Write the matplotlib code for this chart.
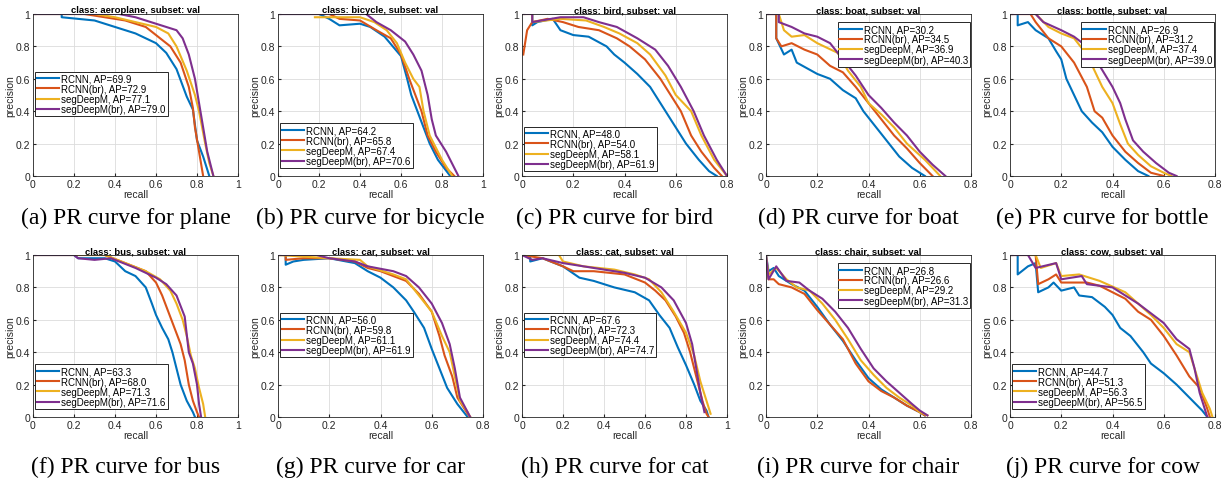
import numpy as np
import matplotlib.pyplot as plt
from matplotlib.ticker import FormatStrFormatter

# curves as (recall, precision) points
methods = ['RCNN', 'RCNN(br)', 'segDeepM', 'segDeepM(br)']
colors = ['#0072BD', '#D95319', '#EDB120', '#7E2F8E']

classes = ['aeroplane', 'bicycle', 'bird', 'boat', 'bottle',
           'bus', 'car', 'cat', 'chair', 'cow']
captions = ['(a) PR curve for plane', '(b) PR curve for bicycle',
            '(c) PR curve for bird', '(d) PR curve for boat',
            '(e) PR curve for bottle', '(f) PR curve for bus',
            '(g) PR curve for car', '(h) PR curve for cat',
            '(i) PR curve for chair', '(j) PR curve for cow']
xmax = [1, 1, 0.8, 0.8, 0.8, 1, 0.8, 1, 0.8, 0.8]

# AP values from the legends
ap_plane = [69.9, 72.9, 77.1, 79.0]
ap_bicycle = [64.2, 65.8, 67.4, 70.6]
ap_bird = [48.0, 54.0, 58.1, 61.9]
ap_boat = [30.2, 34.5, 36.9, 40.3]
ap_bottle = [26.9, 31.2, 37.4, 39.0]
ap_bus = [63.3, 68.0, 71.3, 71.6]
ap_car = [56.0, 59.8, 61.1, 61.9]
ap_cat = [67.6, 72.3, 74.4, 74.7]
ap_chair = [26.8, 26.6, 29.2, 31.3]
ap_cow = [44.7, 51.3, 56.3, 56.5]

plane_rcnn = [(0, 1), (0.14, 1), (0.14, 0.98), (0.3, 0.96), (0.4, 0.92), (0.5, 0.88),
              (0.6, 0.82), (0.65, 0.76), (0.7, 0.66), (0.75, 0.49), (0.78, 0.41),
              (0.8, 0.22), (0.83, 0.12), (0.85, 0.04), (0.86, 0)]
plane_rcnnbr = [(0, 1), (0.25, 1), (0.35, 0.98), (0.45, 0.96), (0.55, 0.92), (0.6, 0.87),
                (0.67, 0.8), (0.72, 0.7), (0.76, 0.55), (0.78, 0.42), (0.79, 0.3),
                (0.81, 0.15), (0.83, 0)]
plane_seg = [(0, 1), (0.3, 1), (0.4, 0.98), (0.5, 0.95), (0.6, 0.92), (0.66, 0.88),
             (0.7, 0.8), (0.75, 0.65), (0.79, 0.5), (0.81, 0.4), (0.84, 0.2),
             (0.86, 0.08), (0.88, 0)]
plane_segbr = [(0, 1), (0.42, 1), (0.5, 0.98), (0.6, 0.94), (0.7, 0.9), (0.73, 0.85),
               (0.76, 0.75), (0.79, 0.6), (0.81, 0.45), (0.83, 0.3), (0.85, 0.15),
               (0.87, 0.05), (0.88, 0)]

bicycle_rcnn = [(0, 1), (0.2, 1), (0.25, 0.97), (0.3, 0.93), (0.4, 0.94), (0.45, 0.92),
                (0.52, 0.86), (0.56, 0.8), (0.6, 0.74), (0.63, 0.6), (0.65, 0.5),
                (0.68, 0.4), (0.71, 0.3), (0.74, 0.2), (0.78, 0.1), (0.84, 0)]
bicycle_rcnnbr = [(0, 1), (0.25, 1), (0.3, 0.97), (0.4, 0.96), (0.48, 0.9), (0.55, 0.85),
                  (0.6, 0.75), (0.64, 0.6), (0.67, 0.5), (0.7, 0.4), (0.73, 0.25),
                  (0.77, 0.15), (0.82, 0.05), (0.86, 0)]
bicycle_seg = [(0.18, 0.98), (0.4, 0.98), (0.47, 0.95), (0.53, 0.9), (0.58, 0.82),
               (0.62, 0.7), (0.66, 0.6), (0.69, 0.55), (0.71, 0.4), (0.74, 0.25),
               (0.8, 0.1), (0.85, 0)]
bicycle_segbr = [(0, 1), (0.43, 1), (0.48, 0.95), (0.55, 0.9), (0.62, 0.83), (0.66, 0.75),
                 (0.7, 0.65), (0.73, 0.5), (0.75, 0.35), (0.77, 0.25), (0.82, 0.15),
                 (0.86, 0.05), (0.88, 0)]

bird_rcnn = [(0.04, 1), (0.04, 0.93), (0.06, 0.95), (0.12, 0.97), (0.15, 0.9), (0.2, 0.87),
             (0.26, 0.86), (0.33, 0.8), (0.36, 0.75), (0.4, 0.7), (0.45, 0.63), (0.5, 0.55),
             (0.56, 0.4), (0.6, 0.3), (0.64, 0.2), (0.69, 0.1), (0.73, 0.03), (0.76, 0)]
bird_rcnnbr = [(0.005, 0.75), (0.02, 0.9), (0.04, 0.95), (0.1, 0.97), (0.16, 0.95),
               (0.22, 0.92), (0.3, 0.9), (0.37, 0.85), (0.42, 0.8), (0.48, 0.72),
               (0.54, 0.6), (0.58, 0.5), (0.62, 0.4), (0.66, 0.25), (0.7, 0.15),
               (0.75, 0.05), (0.78, 0)]
bird_seg = [(0, 1), (0.04, 1), (0.04, 0.95), (0.15, 0.97), (0.25, 0.96), (0.32, 0.92),
            (0.38, 0.88), (0.45, 0.82), (0.5, 0.75), (0.56, 0.62), (0.6, 0.5),
            (0.66, 0.4), (0.7, 0.25), (0.75, 0.1), (0.8, 0)]
bird_segbr = [(0, 1), (0.04, 1), (0.04, 0.95), (0.15, 0.98), (0.24, 0.98), (0.3, 0.95),
              (0.37, 0.92), (0.45, 0.85), (0.52, 0.78), (0.57, 0.68), (0.62, 0.55),
              (0.67, 0.4), (0.71, 0.25), (0.76, 0.1), (0.8, 0)]

boat_rcnn = [(0, 1), (0.04, 1), (0.04, 0.85), (0.07, 0.75), (0.1, 0.78), (0.12, 0.7),
             (0.2, 0.63), (0.25, 0.6), (0.3, 0.53), (0.35, 0.48), (0.38, 0.4),
             (0.42, 0.32), (0.47, 0.22), (0.52, 0.12), (0.57, 0.05), (0.62, 0)]
boat_rcnnbr = [(0, 1), (0.04, 1), (0.04, 0.85), (0.06, 0.8), (0.1, 0.82), (0.15, 0.78),
               (0.2, 0.75), (0.25, 0.68), (0.3, 0.64), (0.35, 0.55), (0.4, 0.45),
               (0.45, 0.35), (0.5, 0.25), (0.55, 0.17), (0.6, 0.08), (0.65, 0)]
boat_seg = [(0, 1), (0.05, 1), (0.07, 0.9), (0.1, 0.86), (0.15, 0.87), (0.2, 0.82),
            (0.28, 0.76), (0.32, 0.65), (0.37, 0.55), (0.4, 0.45), (0.45, 0.38),
            (0.5, 0.3), (0.55, 0.2), (0.62, 0.1), (0.68, 0)]
boat_segbr = [(0, 1), (0.05, 1), (0.05, 0.95), (0.1, 0.92), (0.15, 0.88), (0.2, 0.86),
              (0.25, 0.82), (0.3, 0.72), (0.35, 0.62), (0.4, 0.5), (0.45, 0.42),
              (0.5, 0.33), (0.55, 0.25), (0.6, 0.15), (0.65, 0.07), (0.7, 0)]

bottle_rcnn = [(0, 1), (0.03, 1), (0.03, 0.93), (0.07, 0.95), (0.1, 0.9), (0.15, 0.85),
               (0.18, 0.77), (0.2, 0.72), (0.22, 0.6), (0.25, 0.5), (0.28, 0.4),
               (0.32, 0.33), (0.36, 0.27), (0.4, 0.18), (0.45, 0.1), (0.5, 0.03), (0.54, 0)]
bottle_rcnnbr = [(0, 1), (0.08, 1), (0.1, 0.95), (0.15, 0.85), (0.2, 0.8), (0.25, 0.7),
                 (0.3, 0.55), (0.33, 0.4), (0.36, 0.36), (0.4, 0.25), (0.45, 0.15),
                 (0.5, 0.08), (0.55, 0.02), (0.6, 0)]
bottle_seg = [(0, 1), (0.1, 1), (0.15, 0.92), (0.2, 0.88), (0.25, 0.85), (0.3, 0.75),
              (0.33, 0.65), (0.36, 0.55), (0.4, 0.45), (0.43, 0.32), (0.46, 0.2),
              (0.5, 0.13), (0.55, 0.06), (0.6, 0.02), (0.63, 0)]
bottle_segbr = [(0, 1), (0.1, 1), (0.13, 0.95), (0.2, 0.9), (0.25, 0.86), (0.3, 0.8),
                (0.35, 0.68), (0.4, 0.55), (0.43, 0.45), (0.45, 0.35), (0.48, 0.22),
                (0.52, 0.15), (0.57, 0.08), (0.62, 0.02), (0.65, 0)]

bus_rcnn = [(0, 1), (0.2, 1), (0.22, 0.98), (0.35, 0.98), (0.4, 0.96), (0.45, 0.9),
            (0.5, 0.87), (0.55, 0.8), (0.58, 0.7), (0.6, 0.63), (0.63, 0.55), (0.66, 0.48),
            (0.68, 0.4), (0.7, 0.3), (0.72, 0.2), (0.75, 0.1), (0.78, 0.03), (0.79, 0)]
bus_rcnnbr = [(0, 1), (0.35, 1), (0.45, 0.95), (0.55, 0.9), (0.6, 0.83), (0.63, 0.75),
              (0.66, 0.65), (0.69, 0.55), (0.72, 0.45), (0.74, 0.35), (0.76, 0.2),
              (0.78, 0.1), (0.8, 0.03), (0.81, 0)]
bus_seg = [(0, 1), (0.35, 1), (0.45, 0.95), (0.55, 0.9), (0.62, 0.85), (0.67, 0.78),
           (0.7, 0.7), (0.73, 0.6), (0.75, 0.5), (0.77, 0.38), (0.79, 0.3), (0.81, 0.18),
           (0.83, 0.08), (0.84, 0)]
bus_segbr = [(0, 1), (0.2, 1), (0.22, 0.98), (0.3, 0.97), (0.38, 0.98), (0.5, 0.92),
             (0.6, 0.86), (0.65, 0.82), (0.7, 0.75), (0.74, 0.62), (0.76, 0.4),
             (0.78, 0.33), (0.8, 0.2), (0.81, 0.08), (0.82, 0)]

car_rcnn = [(0, 1), (0.03, 1), (0.03, 0.94), (0.06, 0.96), (0.1, 0.97), (0.2, 0.98),
            (0.3, 0.95), (0.35, 0.9), (0.4, 0.86), (0.45, 0.8), (0.5, 0.72), (0.53, 0.65),
            (0.57, 0.55), (0.6, 0.42), (0.63, 0.3), (0.66, 0.18), (0.7, 0.08), (0.74, 0)]
car_rcnnbr = [(0, 1), (0.03, 1), (0.03, 0.97), (0.1, 0.98), (0.2, 0.98), (0.3, 0.96),
              (0.35, 0.92), (0.4, 0.9), (0.5, 0.84), (0.55, 0.76), (0.6, 0.65),
              (0.63, 0.5), (0.65, 0.38), (0.68, 0.25), (0.7, 0.12), (0.74, 0.02), (0.75, 0)]
car_seg = [(0, 1), (0.2, 0.98), (0.32, 0.97), (0.35, 0.93), (0.45, 0.88), (0.5, 0.85),
           (0.55, 0.75), (0.6, 0.65), (0.64, 0.5), (0.67, 0.4), (0.69, 0.25), (0.71, 0.1),
           (0.74, 0.03), (0.75, 0)]
car_segbr = [(0, 1), (0.15, 1), (0.2, 0.98), (0.3, 0.96), (0.35, 0.93), (0.45, 0.9),
             (0.5, 0.87), (0.55, 0.8), (0.6, 0.7), (0.64, 0.58), (0.67, 0.45),
             (0.69, 0.3), (0.71, 0.12), (0.74, 0.03), (0.75, 0)]

cat_rcnn = [(0, 1), (0.04, 1), (0.04, 0.96), (0.1, 0.98), (0.2, 0.93), (0.28, 0.86),
            (0.35, 0.84), (0.45, 0.8), (0.55, 0.77), (0.62, 0.72), (0.67, 0.63),
            (0.72, 0.55), (0.76, 0.43), (0.8, 0.32), (0.84, 0.2), (0.87, 0.1),
            (0.9, 0.04), (0.91, 0)]
cat_rcnnbr = [(0, 1), (0.1, 0.98), (0.2, 0.93), (0.25, 0.9), (0.35, 0.9), (0.5, 0.88),
              (0.6, 0.83), (0.65, 0.78), (0.7, 0.72), (0.75, 0.62), (0.79, 0.52),
              (0.82, 0.4), (0.85, 0.25), (0.88, 0.1), (0.9, 0.02), (0.91, 0)]
cat_seg = [(0, 1), (0.18, 1), (0.2, 0.96), (0.3, 0.93), (0.45, 0.91), (0.55, 0.88),
           (0.62, 0.85), (0.68, 0.77), (0.74, 0.65), (0.8, 0.52), (0.84, 0.38),
           (0.87, 0.22), (0.9, 0.1), (0.92, 0.02)]
cat_segbr = [(0, 1), (0.05, 0.97), (0.1, 0.98), (0.2, 0.95), (0.3, 0.93), (0.4, 0.91),
             (0.5, 0.89), (0.6, 0.86), (0.68, 0.8), (0.74, 0.72), (0.8, 0.58),
             (0.83, 0.45), (0.85, 0.3), (0.87, 0.15), (0.89, 0.03)]

chair_rcnn = [(0, 1), (0.01, 0.9), (0.03, 0.92), (0.05, 0.87), (0.1, 0.82), (0.15, 0.78),
              (0.2, 0.68), (0.25, 0.57), (0.3, 0.47), (0.35, 0.35), (0.4, 0.24),
              (0.45, 0.17), (0.5, 0.12), (0.55, 0.07), (0.6, 0.03), (0.62, 0.01)]
chair_rcnnbr = [(0, 0.95), (0.01, 0.85), (0.03, 0.85), (0.05, 0.82), (0.1, 0.8),
                (0.15, 0.76), (0.2, 0.66), (0.25, 0.57), (0.3, 0.48), (0.35, 0.33),
                (0.4, 0.22), (0.45, 0.16), (0.5, 0.12), (0.55, 0.07), (0.6, 0.03), (0.62, 0.01)]
chair_seg = [(0, 1), (0.01, 0.88), (0.04, 0.92), (0.08, 0.85), (0.12, 0.8), (0.17, 0.78),
             (0.22, 0.7), (0.27, 0.6), (0.32, 0.48), (0.37, 0.35), (0.42, 0.26),
             (0.47, 0.18), (0.52, 0.12), (0.57, 0.07), (0.6, 0.03), (0.63, 0.01)]
chair_segbr = [(0, 1), (0.01, 0.85), (0.04, 0.93), (0.08, 0.84), (0.13, 0.83),
               (0.17, 0.78), (0.22, 0.73), (0.27, 0.65), (0.32, 0.55), (0.37, 0.42),
               (0.42, 0.3), (0.47, 0.22), (0.52, 0.15), (0.57, 0.08), (0.6, 0.04), (0.63, 0.01)]

cow_rcnn = [(0, 1), (0.03, 1), (0.03, 0.88), (0.07, 0.93), (0.1, 0.95), (0.11, 0.77),
            (0.15, 0.8), (0.17, 0.83), (0.2, 0.78), (0.25, 0.8), (0.27, 0.75),
            (0.32, 0.74), (0.37, 0.68), (0.4, 0.63), (0.43, 0.55), (0.47, 0.5),
            (0.52, 0.4), (0.55, 0.33), (0.6, 0.27), (0.65, 0.2), (0.7, 0.12),
            (0.75, 0.04), (0.77, 0)]
cow_rcnnbr = [(0, 1), (0.1, 1), (0.11, 0.82), (0.15, 0.85), (0.18, 0.88), (0.2, 0.83),
              (0.3, 0.83), (0.35, 0.81), (0.4, 0.77), (0.45, 0.73), (0.5, 0.65),
              (0.55, 0.6), (0.6, 0.5), (0.65, 0.38), (0.7, 0.25), (0.74, 0.18),
              (0.77, 0.05), (0.78, 0)]
cow_seg = [(0, 1), (0.1, 1), (0.12, 0.92), (0.18, 0.95), (0.2, 0.87), (0.27, 0.88),
           (0.35, 0.84), (0.45, 0.77), (0.5, 0.7), (0.55, 0.63), (0.6, 0.55),
           (0.65, 0.45), (0.7, 0.4), (0.72, 0.3), (0.75, 0.15), (0.78, 0.05), (0.79, 0)]
cow_segbr = [(0, 1), (0.07, 1), (0.1, 0.92), (0.18, 0.95), (0.2, 0.85), (0.28, 0.87),
             (0.3, 0.82), (0.4, 0.8), (0.45, 0.75), (0.5, 0.7), (0.55, 0.64),
             (0.6, 0.58), (0.65, 0.48), (0.7, 0.42), (0.72, 0.3), (0.74, 0.15),
             (0.76, 0.05), (0.77, 0)]

curves = [
    [plane_rcnn, plane_rcnnbr, plane_seg, plane_segbr],
    [bicycle_rcnn, bicycle_rcnnbr, bicycle_seg, bicycle_segbr],
    [bird_rcnn, bird_rcnnbr, bird_seg, bird_segbr],
    [boat_rcnn, boat_rcnnbr, boat_seg, boat_segbr],
    [bottle_rcnn, bottle_rcnnbr, bottle_seg, bottle_segbr],
    [bus_rcnn, bus_rcnnbr, bus_seg, bus_segbr],
    [car_rcnn, car_rcnnbr, car_seg, car_segbr],
    [cat_rcnn, cat_rcnnbr, cat_seg, cat_segbr],
    [chair_rcnn, chair_rcnnbr, chair_seg, chair_segbr],
    [cow_rcnn, cow_rcnnbr, cow_seg, cow_segbr],
]
aps = [ap_plane, ap_bicycle, ap_bird, ap_boat, ap_bottle,
       ap_bus, ap_car, ap_cat, ap_chair, ap_cow]

# legend placement: (loc, anchor) in axes fraction
legend_pos = [('lower left', (0.01, 0.37)), ('lower left', (0.01, 0.05)),
              ('lower left', (0.01, 0.03)), ('upper right', (0.995, 0.95)),
              ('upper right', (0.995, 0.95)), ('lower left', (0.01, 0.05)),
              ('lower left', (0.01, 0.37)), ('lower left', (0.01, 0.37)),
              ('upper right', (0.995, 0.95)), ('lower left', (0.01, 0.05))]

plt.rcParams['font.family'] = 'Liberation Sans'

fig = plt.figure(figsize=(12.23, 4.85), dpi=100)
W, H = 1223, 485
ax_w, ax_h = 205, 162
lefts = [33, 278, 522, 766, 1010]
bottoms = [177, 418]

for k, cls in enumerate(classes):
    row, col = divmod(k, 5)
    ax = fig.add_axes([lefts[col] / W, 1 - bottoms[row] / H, ax_w / W, ax_h / H])
    for m in range(4):
        pts = np.array(curves[k][m])
        ax.plot(pts[:, 0], pts[:, 1], color=colors[m], lw=1.5,
                label=f'{methods[m]}, AP={aps[k][m]:.1f}')
    ax.set_xlim(0, xmax[k])
    ax.set_ylim(0, 1)
    ax.set_xticks(np.arange(0, xmax[k] + 0.01, 0.2))
    ax.set_yticks(np.arange(0, 1.01, 0.2))
    ax.xaxis.set_major_formatter(FormatStrFormatter('%g'))
    ax.yaxis.set_major_formatter(FormatStrFormatter('%g'))
    ax.grid(True, color='#dcdcdc', lw=0.6)
    ax.set_axisbelow(True)
    ax.tick_params(direction='in', length=2, labelsize=7.5, colors='#262626', pad=2)
    for s in ax.spines.values():
        s.set_color('#262626')
        s.set_linewidth(0.6)
    ax.set_xlabel('recall', fontsize=7.5, color='#262626', labelpad=0)
    ax.set_ylabel('precision', fontsize=7.5, color='#262626', labelpad=0)
    ax.set_title(f'class: {cls}, subset: val', fontsize=6.8, fontweight='bold', pad=1)
    loc, anchor = legend_pos[k]
    leg = ax.legend(loc=loc, bbox_to_anchor=anchor, fontsize=7, frameon=True,
                    fancybox=False, edgecolor='#262626', framealpha=1,
                    borderpad=0.2, labelspacing=0.02, handlelength=2.3,
                    handletextpad=0.2, borderaxespad=0)
    leg.get_frame().set_linewidth(0.7)
    cx = (lefts[col] + ax_w / 2 - 10) / W
    cy = 0.55 if row == 0 else 0.037
    fig.text(cx, cy, captions[k], ha='center', va='center', fontsize=17,
             family='Liberation Serif')

fig.savefig('out.png', dpi=100)
